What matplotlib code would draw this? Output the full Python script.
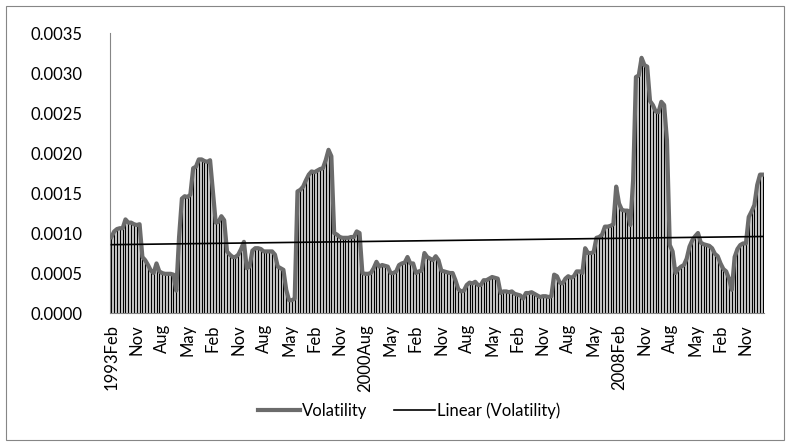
import matplotlib.pyplot as plt
import numpy as np
from matplotlib.patches import Rectangle

plt.rcParams["font.family"] = ["Lato", "DejaVu Sans"]

# monthly volatility, Feb 1993 onwards
volatility = [
    0.00095, 0.00102, 0.00105, 0.00106, 0.00106, 0.00117, 0.00113, 0.00113, 0.00111, 0.00110,
    0.00111, 0.00070, 0.00066, 0.00060, 0.00053, 0.00050, 0.00062, 0.00052, 0.00050, 0.00049,
    0.00049, 0.00049, 0.00048, 0.00028, 0.00095, 0.00143, 0.00146, 0.00145, 0.00148, 0.00181,
    0.00183, 0.00192, 0.00192, 0.00190, 0.00189, 0.00191, 0.00152, 0.00113, 0.00114, 0.00121,
    0.00116, 0.00077, 0.00073, 0.00070, 0.00070, 0.00073, 0.00080, 0.00089, 0.00056, 0.00058,
    0.00078, 0.00081, 0.00081, 0.00080, 0.00077, 0.00077, 0.00077, 0.00077, 0.00073, 0.00058,
    0.00056, 0.00054, 0.00029, 0.00016, 0.00016, 0.00018, 0.00152, 0.00154, 0.00158, 0.00166,
    0.00173, 0.00177, 0.00176, 0.00178, 0.00180, 0.00181, 0.00191, 0.00204, 0.00196, 0.00100,
    0.00098, 0.00095, 0.00094, 0.00094, 0.00094, 0.00095, 0.00095, 0.00102, 0.00100, 0.00050,
    0.00049, 0.00049, 0.00050, 0.00056, 0.00064, 0.00058, 0.00060, 0.00059, 0.00058, 0.00050,
    0.00050, 0.00052, 0.00060, 0.00062, 0.00063, 0.00070, 0.00062, 0.00062, 0.00050, 0.00052,
    0.00053, 0.00075, 0.00070, 0.00068, 0.00066, 0.00071, 0.00066, 0.00053, 0.00052, 0.00051,
    0.00050, 0.00050, 0.00041, 0.00030, 0.00027, 0.00028, 0.00035, 0.00038, 0.00037, 0.00039,
    0.00035, 0.00035, 0.00041, 0.00041, 0.00043, 0.00045, 0.00044, 0.00043, 0.00025, 0.00027,
    0.00027, 0.00026, 0.00027, 0.00024, 0.00023, 0.00022, 0.00018, 0.00025, 0.00025, 0.00026,
    0.00024, 0.00022, 0.00020, 0.00021, 0.00021, 0.00020, 0.00021, 0.00048, 0.00046, 0.00038,
    0.00037, 0.00043, 0.00046, 0.00044, 0.00046, 0.00052, 0.00052, 0.00050, 0.00081, 0.00075,
    0.00075, 0.00076, 0.00094, 0.00095, 0.00098, 0.00108, 0.00108, 0.00109, 0.00111, 0.00158,
    0.00137, 0.00129, 0.00128, 0.00128, 0.00110, 0.00166, 0.00295, 0.00297, 0.00319, 0.00310,
    0.00308, 0.00265, 0.00260, 0.00252, 0.00251, 0.00264, 0.00260, 0.00216, 0.00085, 0.00077,
    0.00050, 0.00055, 0.00058, 0.00060, 0.00068, 0.00083, 0.00091, 0.00096, 0.00100, 0.00088,
    0.00086, 0.00085, 0.00084, 0.00081, 0.00074, 0.00071, 0.00062, 0.00055, 0.00052, 0.00043,
    0.00029, 0.00070, 0.00080, 0.00085, 0.00087, 0.00087, 0.00120, 0.00127, 0.00135, 0.00160,
    0.00173, 0.00173,
]

tick_labels = ["1993Feb", "Nov", "Aug", "May", "Feb", "Nov", "Aug", "May", "Feb", "Nov",
               "2000Aug", "May", "Feb", "Nov", "Aug", "May", "Feb", "Nov", "Aug", "May",
               "2008Feb", "Nov", "Aug", "May", "Feb", "Nov"]
tick_step = 9

vol = np.array(volatility)
x = np.arange(len(vol))

# least-squares trend, like Excel's linear trendline
slope, intercept = np.polyfit(x, vol, 1)
trend = slope * x + intercept

fig = plt.figure(figsize=(7.9, 4.45), dpi=100)
ax = fig.add_axes([0.1392, 0.2966, 0.8282, 0.6292])

ax.fill_between(x, 0, vol, color="#c4c4c4", linewidth=0, zorder=1)
ax.vlines(x, 0, vol, colors="black", linewidth=0.75, zorder=2)
ax.plot(x, vol, color="#6b6b6b", linewidth=3.0, solid_joinstyle="round",
        label="Volatility", zorder=3)
ax.plot(x, trend, color="black", linewidth=1.2, label="Linear (Volatility)", zorder=4)

ax.set_xlim(-0.5, len(vol) - 0.5)
ax.set_ylim(0, 0.0035)
ax.set_yticks(np.arange(0, 0.00351, 0.0005))
ax.yaxis.set_major_formatter(plt.FormatStrFormatter("%.4f"))
ax.set_xticks(np.arange(len(tick_labels)) * tick_step)
ax.set_xticklabels(tick_labels, rotation=90)
ax.tick_params(axis="both", length=0, labelsize=12, colors="black")
ax.tick_params(axis="y", pad=20)
ax.tick_params(axis="x", pad=8)

for side in ["top", "right"]:
    ax.spines[side].set_visible(False)
for side in ["left", "bottom"]:
    ax.spines[side].set_color("#868686")
    ax.spines[side].set_linewidth(0.8)

fig.legend(loc="center", bbox_to_anchor=(0.518, 0.0764), ncol=2, frameon=False,
           fontsize=12, handlelength=2.5, handletextpad=0.1, columnspacing=1.6)

fig.patches.append(Rectangle((5.5 / 790, 1 - 440 / 445), 778 / 790, 434 / 445,
                             transform=fig.transFigure, fill=False,
                             edgecolor="#868686", linewidth=0.8))

fig.savefig("out.png", dpi=100)
